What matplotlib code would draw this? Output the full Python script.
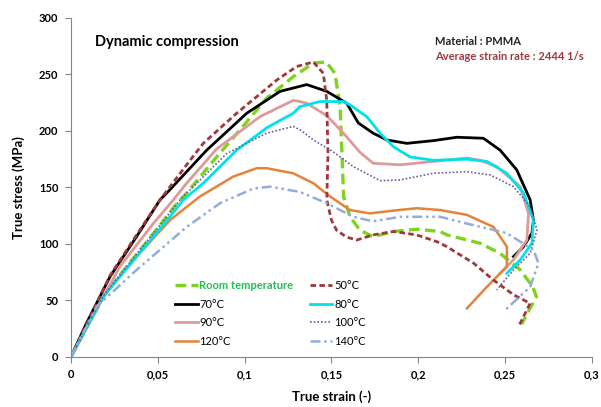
import matplotlib
matplotlib.use('Agg')
from matplotlib import pyplot as plt
from matplotlib.ticker import FuncFormatter

plt.rcParams['font.family'] = ['Lato', 'DejaVu Sans']

strain_rt = [0, 0.01, 0.02, 0.03, 0.04, 0.05, 0.06, 0.0666, 0.0839, 0.0974, 0.1127, 0.128, 0.1396, 0.147,
             0.152, 0.155, 0.157, 0.1607, 0.1665, 0.174, 0.1857, 0.199, 0.2126, 0.2164, 0.2356, 0.247,
             0.2587, 0.266, 0.268, 0.264, 0.2595]
stress_rt = [0, 29, 56, 76, 95, 114, 134, 145, 177, 201, 229, 248, 260, 261,
             251, 221, 142, 124, 112, 106.5, 111, 113, 111, 108, 100.6, 91.7,
             77, 62, 53, 42, 29]

strain_50 = [0, 0.01, 0.0225, 0.0378, 0.0513, 0.0676, 0.0762, 0.0954, 0.1185, 0.13, 0.1396, 0.1453, 0.1473,
             0.148, 0.1473, 0.150, 0.153, 0.1588, 0.1646, 0.174, 0.1857, 0.199, 0.2107, 0.2164, 0.2318,
             0.2433, 0.2548, 0.2644, 0.2577]
stress_50 = [0, 32, 72, 108, 139, 172, 189, 215.6, 245, 257, 261, 251, 227,
             180, 139, 121, 112, 106, 103.5, 108, 111, 108, 102, 97.6, 83,
             68, 55, 47.4, 26.8]

strain_70 = [0, 0.009, 0.0225, 0.0378, 0.0513, 0.057, 0.0782, 0.1012, 0.1204, 0.1358, 0.1473, 0.1588,
             0.1655, 0.174, 0.1819, 0.1934, 0.2087, 0.2222, 0.2375, 0.2471, 0.2567, 0.2644, 0.2663,
             0.2654, 0.2606, 0.2548]
stress_70 = [0, 30, 71, 106.5, 139, 148, 183, 215.6, 235, 241, 235, 224.5,
             207, 198, 192, 189, 191.4, 194.4, 193.5, 183, 165.5, 139, 121,
             109.5, 97.6, 88.8]

strain_80 = [0, 0.0186, 0.0378, 0.057, 0.0647, 0.0762, 0.0954, 0.113, 0.128, 0.1319, 0.1434, 0.1569,
             0.1607, 0.1703, 0.178, 0.1857, 0.1953, 0.2087, 0.228, 0.2395, 0.251, 0.2606, 0.2663,
             0.2654, 0.2587, 0.251]
stress_80 = [0, 53.4, 88.8, 124, 139, 153.7, 183, 203, 215.6, 221.5, 226, 226,
             223, 212.7, 198, 186, 177, 174, 175, 173, 162.5, 145, 121,
             100.6, 86, 74]

strain_90 = [0, 0.0282, 0.0474, 0.059, 0.0666, 0.0839, 0.1089, 0.128, 0.1319, 0.1358, 0.1473, 0.1569,
             0.1665, 0.174, 0.1895, 0.2087, 0.228, 0.2356, 0.2452, 0.2587, 0.2635, 0.2625, 0.2548, 0.2471]
stress_90 = [0, 80, 118, 139, 153.7, 184, 212.7, 227, 226, 224.5, 213.5, 198,
             181, 171.4, 170, 173, 176, 174, 168.4, 150.7, 127, 103.5, 86, 74]

strain_100 = [0, 0.0186, 0.0378, 0.0551, 0.0628, 0.0897, 0.1127, 0.128, 0.1319, 0.1396, 0.151, 0.1626,
              0.178, 0.1895, 0.2087, 0.228, 0.2414, 0.2548, 0.2644, 0.2683, 0.2644, 0.2548, 0.2452]
stress_100 = [0, 54, 91, 124, 139, 180, 198, 204, 201, 192, 181.5, 168.4,
              156, 156.6, 162.5, 164, 161, 150.7, 133, 112.4, 91.7, 77, 59.3]

strain_120 = [0, 0.0186, 0.0378, 0.057, 0.0743, 0.0935, 0.107, 0.1127, 0.128, 0.1396, 0.1492, 0.1607,
              0.1722, 0.1857, 0.199, 0.2126, 0.228, 0.2433, 0.251, 0.251, 0.2395, 0.228]
stress_120 = [0, 53.4, 88.8, 121, 142, 159.6, 167, 167, 162.5, 153.7, 142, 130,
              127, 129.5, 131.6, 130, 125.7, 115, 97.6, 80, 62, 43]

strain_140 = [0, 0.008, 0.0148, 0.0378, 0.0666, 0.0858, 0.105, 0.1146, 0.1319, 0.1473, 0.1626, 0.174,
              0.1895, 0.2126, 0.228, 0.251, 0.2663, 0.2692, 0.2644, 0.249]
stress_140 = [0, 24, 44.5, 77, 115, 136, 149, 150.7, 146, 136, 124, 120,
              124, 124, 118, 109.5, 94.7, 83, 62, 40]

fig = plt.figure(figsize=(6.01, 4.07), dpi=100)
ax = fig.add_axes([0.118, 0.123, 0.867, 0.833])

ax.plot(strain_rt, stress_rt, color='#7ED321', lw=2.4, dashes=(3.2, 1.6), label='Room temperature')
ax.plot(strain_70, stress_70, color='black', lw=2.0, label='70°C')
ax.plot(strain_90, stress_90, color='#DE9A98', lw=2.0, label='90°C')
ax.plot(strain_120, stress_120, color='#E4833A', lw=1.8, label='120°C')
ax.plot(strain_50, stress_50, color='#A0383C', lw=2.0, dashes=(2.0, 1.2), label='50°C')
ax.plot(strain_80, stress_80, color='#00E1EA', lw=2.0, label='80°C')
ax.plot(strain_100, stress_100, color='#6E5A9C', lw=1.2, dashes=(1, 1.2), label='100°C')
ax.plot(strain_140, stress_140, color='#93ADD6', lw=1.8, dashes=(4, 1.5, 1, 1.5, 1, 1.5), label='140°C')

ax.set_xlim(0, 0.3)
ax.set_ylim(0, 300)
ax.set_xticks([0, 0.05, 0.1, 0.15, 0.2, 0.25, 0.3])
ax.set_yticks(range(0, 301, 50))
ax.xaxis.set_major_formatter(FuncFormatter(lambda v, p: ('%g' % round(v, 2)).replace('.', ',')))
ax.tick_params(labelsize=8, length=4, color='#868686', width=0.8, pad=5)
for lab in ax.get_xticklabels() + ax.get_yticklabels():
    lab.set_fontweight('bold')
for s in ['top', 'right']:
    ax.spines[s].set_visible(False)
for s in ['left', 'bottom']:
    ax.spines[s].set_color('#868686')

ax.set_xlabel('True strain (-)', fontsize=9.5, fontweight='bold', labelpad=7)
ax.set_ylabel('True stress (MPa)', fontsize=9.5, fontweight='bold', labelpad=10)

fig.text(0.158, 0.897, 'Dynamic compression', fontsize=10.5, fontweight='bold', va='center')
fig.text(0.724, 0.899, 'Material : PMMA', fontsize=8, fontweight='bold', va='center', color='#222222')
fig.text(0.724, 0.862, 'Average strain rate : 2444 1/s', fontsize=8, fontweight='bold', va='center',
         color='#A0383C')

leg = ax.legend(ncol=2, loc='upper left', bbox_to_anchor=(0.19, 0.243), frameon=False, fontsize=8,
                handlelength=2.0, handletextpad=0.15, columnspacing=1.5, labelspacing=0.68, borderpad=0)
leg.get_texts()[0].set_color('#22C04F')
leg.get_texts()[0].set_fontweight('bold')

fig.savefig('out.png', dpi=100)
